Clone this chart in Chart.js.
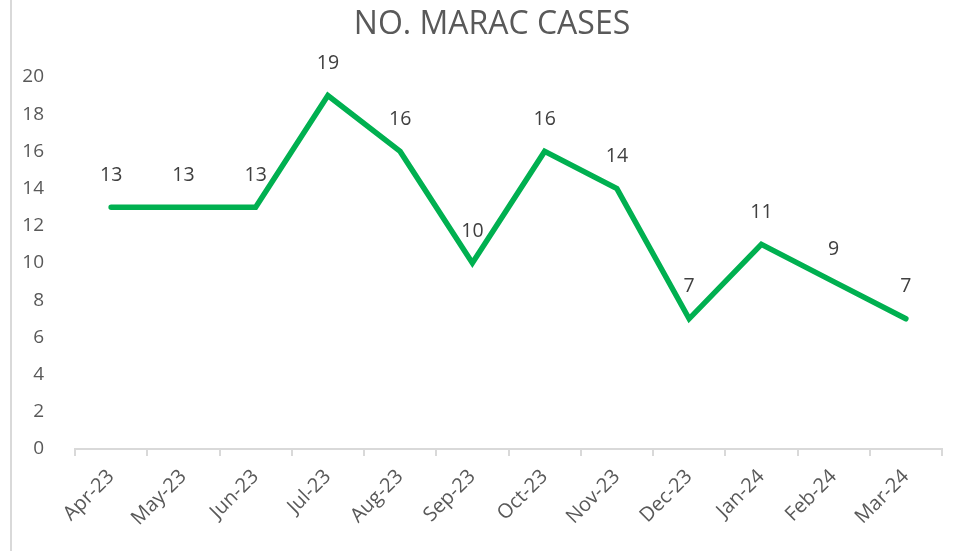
<!DOCTYPE html>
<html><head><meta charset="utf-8">
<script src="https://cdn.jsdelivr.net/npm/chart.js@4/dist/chart.umd.min.js"></script>
<style>
html,body{margin:0;padding:0;background:#fff;}
#wrap{position:relative;width:953px;height:551px;}
#edge{position:absolute;left:10px;top:0;width:2px;height:551px;background:#d9d9d9;}
</style></head>
<body>
<div id="wrap"><canvas id="c" width="953" height="551"></canvas><div id="edge"></div></div>
<script>
const title = "NO. MARAC CASES";
const categories = ["Apr-23","May-23","Jun-23","Jul-23","Aug-23","Sep-23","Oct-23","Nov-23","Dec-23","Jan-24","Feb-24","Mar-24"];
const cases = [13,13,13,19,16,10,16,14,7,11,9,7];
const yTicks = {min:0, max:20, step:2};

const labelPlugin = {
  id:'dataLabels',
  afterDatasetsDraw(chart){
    const ctx = chart.ctx;
    const meta = chart.getDatasetMeta(0);
    ctx.save();
    ctx.font = '19.5px "Open Sans"';
    ctx.fillStyle = '#404040';
    ctx.textAlign = 'center';
    ctx.textBaseline = 'middle';
    meta.data.forEach((pt,i)=>{
      ctx.fillText(String(cases[i]), pt.x, pt.y - 32);
    });
    // chart title
    ctx.font = '32px "Open Sans"';
    ctx.fillStyle = '#595959';
    ctx.fillText(title, 492, 25);
    ctx.restore();
  }
};

new Chart(document.getElementById('c'), {
  type:'line',
  data:{labels:categories, datasets:[{data:cases, borderColor:'#00B050', borderWidth:5.5, pointRadius:0, pointHoverRadius:0, borderCapStyle:'round', borderJoinStyle:'miter', tension:0, fill:false}]},
  options:{
    responsive:false, animation:false,
    layout:{padding:{left:0,right:11,top:77,bottom:0}},
    plugins:{
      legend:{display:false}, tooltip:{enabled:false}, title:{display:false}
    },
    scales:{
      x:{offset:true,
        grid:{display:true, drawOnChartArea:false, offset:true, color:'#d9d9d9', lineWidth:2, tickLength:7},
        border:{display:true, color:'#d9d9d9', width:2},
        ticks:{color:'#595959', font:{family:'"Open Sans"', size:20}, minRotation:45, maxRotation:45, padding:9, autoSkip:false},
        afterFit(s){ s.height = 102; }
      },
      y:{min:yTicks.min, max:yTicks.max,
        grid:{display:false}, border:{display:false},
        ticks:{stepSize:yTicks.step, color:'#595959', font:{family:'"Open Sans"', size:19}, padding:23},
        afterFit(s){ s.width = 75; }
      }
    }
  },
  plugins:[labelPlugin]
});
</script>
</body></html>
